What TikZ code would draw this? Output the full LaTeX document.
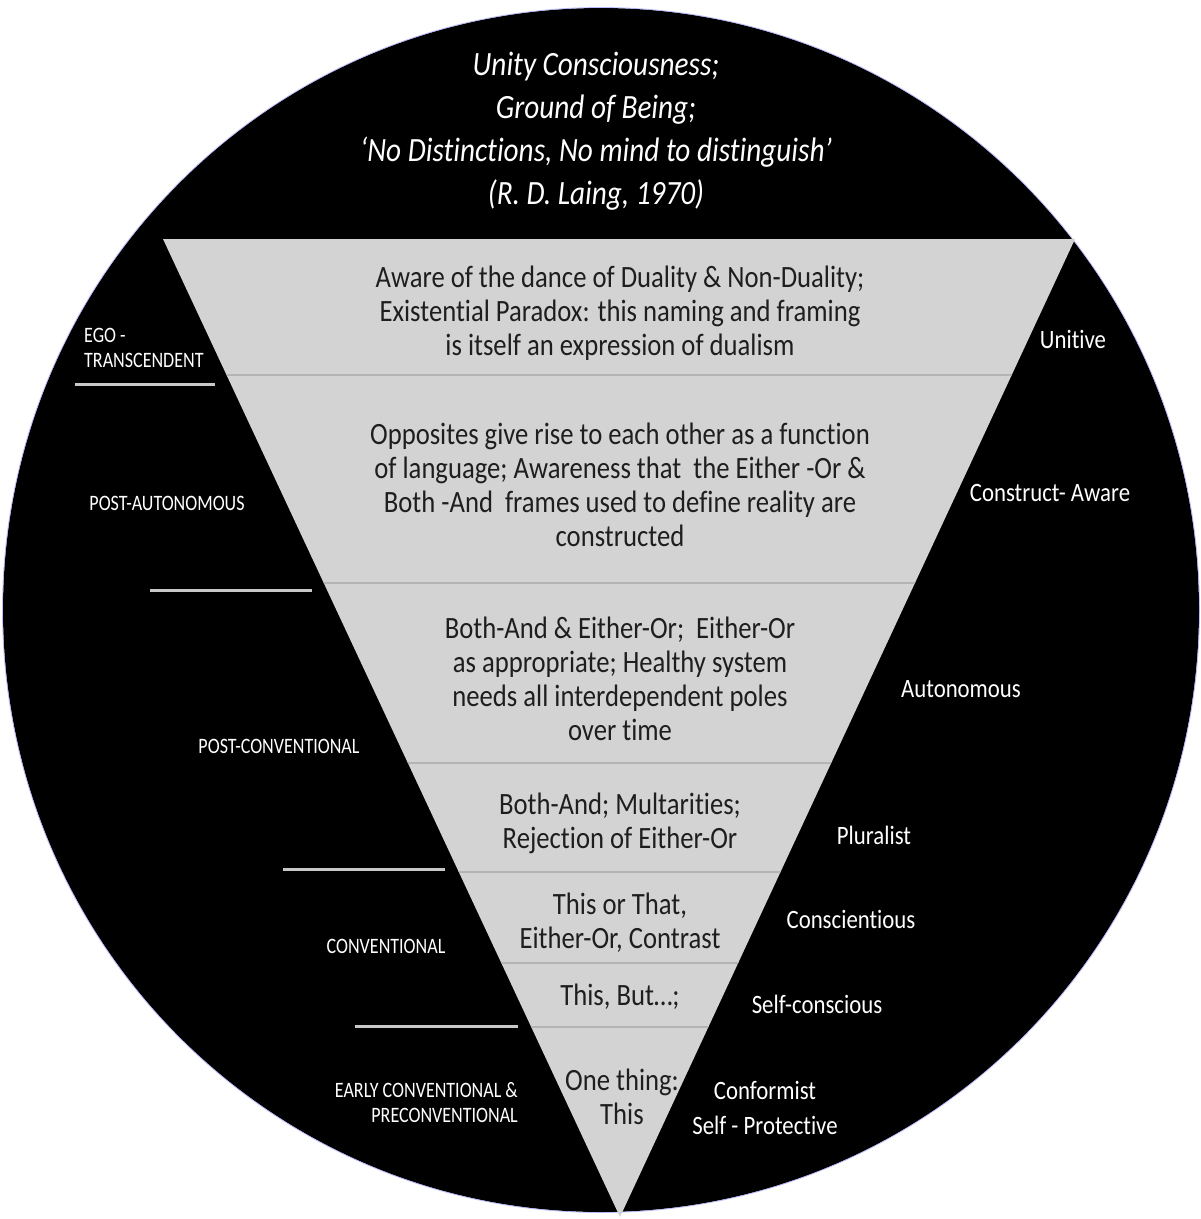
\documentclass[tikz,border=0pt]{standalone}
\usepackage{fontspec}
\setmainfont{Carlito}[FakeStretch=0.86,Ligatures=NoCommon]
\newfontfamily\condfont{Carlito}[FakeStretch=0.82,Ligatures=NoCommon]
\definecolor{trigray}{HTML}{D3D3D3}
\definecolor{divgray}{HTML}{B4B4B4}
\definecolor{rulegray}{HTML}{C8C8C8}
\definecolor{inktxt}{HTML}{1E1E1E}
\tikzset{
  inner/.style={align=center,text=inktxt,font=\fontsize{31}{34}\selectfont,inner sep=0pt},
  toptxt/.style={align=center,text=white,font=\fontsize{34}{43}\selectfont\itshape,inner sep=0pt},
  rlabel/.style={align=center,text=white,font=\fontsize{26.5}{35}\selectfont,inner sep=0pt},
  llabel/.style={text=white,font=\condfont\fontsize{22}{25}\selectfont,inner sep=0pt},
  divider/.style={draw=divgray,line width=1.2pt},
  leftrule/.style={draw=rulegray,line width=3pt}
}
\begin{document}
\begin{tikzpicture}[x=1pt,y=-1pt]
\useasboundingbox (0,0) rectangle (1201,1219);
% disc
\fill[black] (601,610) ellipse [x radius=598pt, y radius=602pt];
\draw[draw=blue!45!white,line width=0.8pt,opacity=0.6] (601,610) ellipse [x radius=598.5pt, y radius=602.5pt];
% triangle
\fill[trigray] (163,239) -- (1075,239) -- (620,1217) -- cycle;
\begin{scope}
  \clip (163,239) -- (1075,239) -- (620,1217) -- cycle;
  \foreach \yy in {375,583,763,872,963,1027} {\draw[divider] (100,\yy) -- (1100,\yy);}
\end{scope}
% top text
\node[toptxt] (unity) at (596,131) {Unity Consciousness;\\Ground of Being;\\‘No Distinctions, No mind to distinguish’\\(R. D. Laing, 1970)};
% inner texts
\node[inner] (b1) at (620,313) {Aware of the dance of Duality \& Non-Duality;\\Existential Paradox: this naming and framing\\is itself an expression of dualism};
\node[inner] (b2) at (620,485) {Opposites give rise to each other as a function\\of language; Awareness that\ \ the Either -Or \&\\Both -And\ \ frames used to define reality are\\constructed};
\node[inner] (b3) at (620,679) {Both-And \& Either-Or;\ \ Either-Or\\as appropriate; Healthy system\\needs all interdependent poles\\over time};
\node[inner] (b4) at (620,823) {Both-And; Multarities;\\Rejection of Either-Or};
\node[inner] (b5) at (620,923) {This or That,\\Either-Or, Contrast};
\node[inner] (b6) at (620,997) {This, But…;};
\node[inner] (b7) at (622,1097) {One thing:\\This};
% right labels
\node[rlabel] (unitive) at (1073,339) {Unitive};
\node[rlabel] (construct) at (1050,493) {Construct- Aware};
\node[rlabel] (autonomous) at (961,689) {Autonomous};
\node[rlabel] (pluralist) at (874,835) {Pluralist};
\node[rlabel] (conscientious) at (851,919) {Conscientious};
\node[rlabel] (selfconscious) at (817,1004) {Self-conscious};
\node[rlabel] (conformist) at (765,1108) {Conformist\\Self - Protective};
% left labels
\node[llabel,align=left,anchor=west] (ego) at (84,348) {EGO -\\TRANSCENDENT};
\node[llabel] (postauto) at (167,503) {POST-AUTONOMOUS};
\node[llabel] (postconv) at (279,746) {POST-CONVENTIONAL};
\node[llabel] (conv) at (386,946) {CONVENTIONAL};
\node[llabel,align=right,anchor=east] (early) at (518,1103) {EARLY CONVENTIONAL \&\\PRECONVENTIONAL};
% left rules
\coordinate (r1a) at (75,384); \coordinate (r1b) at (215,384);
\coordinate (r2a) at (150,590); \coordinate (r2b) at (312,590);
\coordinate (r3a) at (283,869); \coordinate (r3b) at (445,869);
\coordinate (r4a) at (355,1026); \coordinate (r4b) at (518,1026);
\draw[leftrule] (r1a) -- (r1b);
\draw[leftrule] (r2a) -- (r2b);
\draw[leftrule] (r3a) -- (r3b);
\draw[leftrule] (r4a) -- (r4b);
\end{tikzpicture}
\end{document}
